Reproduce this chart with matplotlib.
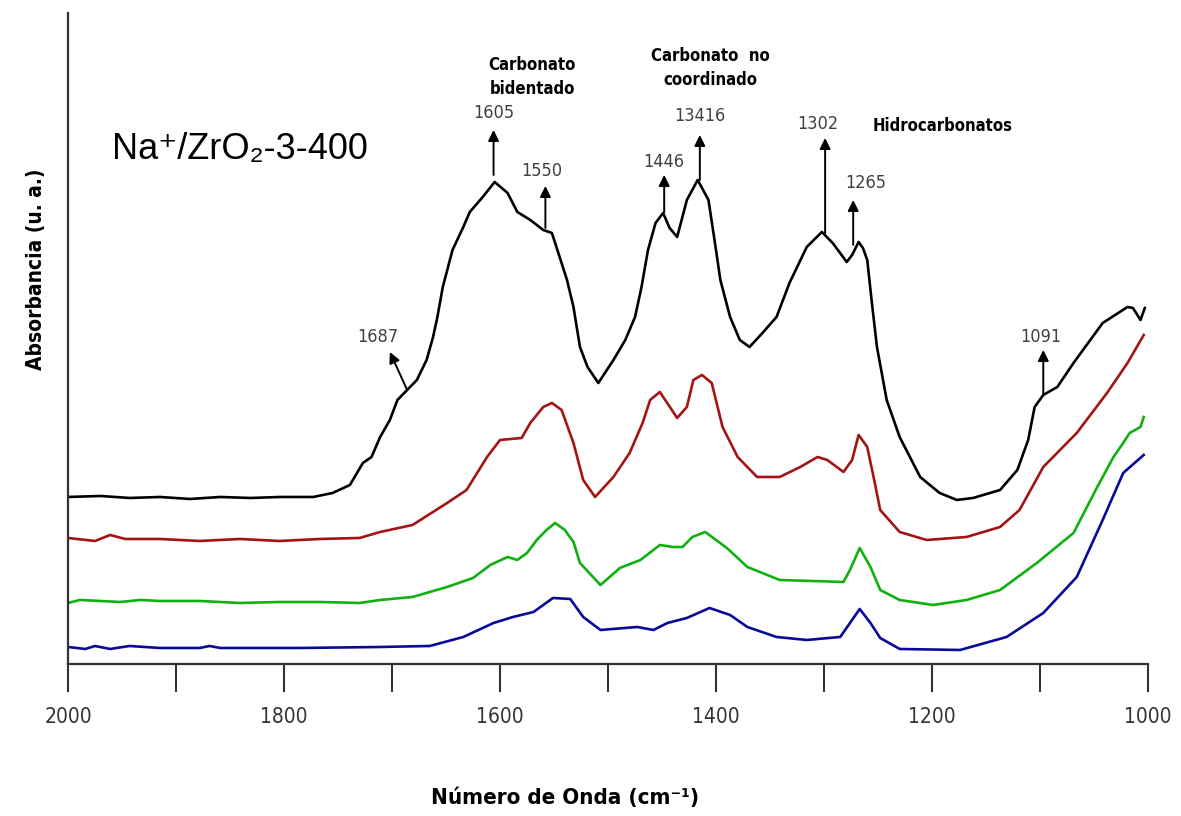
import numpy as np
import matplotlib
matplotlib.use("Agg")
import matplotlib.pyplot as plt
from matplotlib import font_manager

# espectros DRIFT (u. a.)
w_negro = [2000, 1970, 1943, 1915, 1887, 1859, 1831, 1804, 1773, 1755, 1739, 1727, 1719, 1711, 1702, 1695,
           1686, 1677, 1668, 1662, 1658, 1653, 1644, 1634, 1628, 1616, 1605, 1593, 1584, 1572, 1560, 1552,
           1546, 1538, 1532, 1526, 1519, 1509, 1495, 1484, 1475, 1469, 1463, 1456, 1449, 1443, 1436, 1427,
           1417, 1407, 1401, 1396, 1387, 1378, 1369, 1357, 1344, 1332, 1316, 1302, 1292, 1279, 1274, 1268,
           1264, 1260, 1256, 1251, 1242, 1230, 1211, 1193, 1177, 1162, 1137, 1121, 1111, 1105, 1097, 1084,
           1069, 1042, 1019, 1014, 1007, 1003]
a_negro = [167, 168, 166, 167, 165, 167, 166, 167, 167, 171, 179, 201, 207, 227, 244, 264,
           274, 284, 304, 327, 347, 377, 414, 437, 452, 467, 482, 471, 452, 444, 434, 431,
           411, 384, 357, 317, 297, 281, 304, 324, 347, 377, 414, 441, 451, 436, 427, 464,
           484, 464, 421, 384, 347, 324, 317, 331, 347, 381, 417, 432, 421, 402, 409, 422,
           416, 404, 364, 317, 264, 227, 187, 171, 164, 166, 174, 194, 224, 257, 269, 277,
           301, 341, 357, 356, 344, 356]

w_rojo = [2000, 1975, 1961, 1947, 1915, 1878, 1841, 1804, 1767, 1730, 1711, 1681, 1649, 1631, 1612, 1600,
          1580, 1572, 1560, 1552, 1543, 1532, 1523, 1512, 1495, 1480, 1468, 1461, 1452, 1444, 1436, 1427,
          1421, 1413, 1404, 1394, 1380, 1362, 1341, 1322, 1306, 1297, 1282, 1274, 1268, 1260, 1253, 1248,
          1230, 1205, 1168, 1137, 1119, 1097, 1066, 1038, 1019, 1004]
a_rojo = [126, 123, 129, 125, 125, 123, 125, 123, 125, 126, 132, 139, 161, 174, 207, 224,
          226, 241, 257, 261, 254, 221, 184, 167, 187, 211, 241, 264, 272, 259, 246, 257,
          284, 289, 281, 237, 207, 187, 187, 197, 207, 204, 192, 204, 229, 217, 181, 154,
          132, 124, 127, 137, 154, 197, 231, 271, 301, 329]

w_verde = [2000, 1989, 1970, 1952, 1933, 1915, 1878, 1841, 1804, 1767, 1730, 1711, 1681, 1649, 1625, 1609,
           1593, 1584, 1575, 1566, 1557, 1549, 1540, 1532, 1526, 1507, 1489, 1470, 1452, 1440, 1431, 1422,
           1410, 1390, 1371, 1341, 1282, 1276, 1267, 1257, 1248, 1230, 1199, 1168, 1137, 1103, 1069, 1047,
           1032, 1023, 1017, 1007, 1004]
a_verde = [61, 64, 63, 62, 64, 63, 63, 61, 62, 62, 61, 64, 67, 77, 86, 99,
           107, 104, 111, 124, 134, 141, 134, 122, 101, 79, 96, 104, 119, 117, 117, 127,
           132, 116, 97, 84, 82, 94, 116, 97, 74, 64, 59, 64, 74, 101, 131, 177,
           207, 221, 231, 237, 247]

w_azul = [2000, 1984, 1975, 1961, 1943, 1915, 1878, 1869, 1859, 1785, 1711, 1665, 1634, 1606, 1588, 1569,
          1551, 1535, 1523, 1507, 1473, 1458, 1445, 1427, 1406, 1387, 1371, 1344, 1316, 1285, 1276, 1267,
          1257, 1248, 1230, 1174, 1131, 1097, 1066, 1042, 1023, 1004]
a_azul = [17, 15, 18, 15, 18, 16, 16, 18, 16, 16, 17, 18, 27, 41, 47, 52,
          66, 65, 47, 34, 37, 34, 41, 46, 56, 49, 37, 27, 24, 27, 41, 55,
          41, 26, 15, 14, 27, 51, 87, 144, 191, 209]

# bandas marcadas: etiqueta, (x, y) punta de flecha, (x, y) cola, (x, y) texto
bandas = [
    ("1605", (1606, 534), (1606, 489), (1606, 551)),
    ("1550", (1558, 478), (1558, 436), (1561, 493)),
    ("1687", (1702, 312), (1686, 274), (1713, 327)),
    ("1446", (1448, 489), (1448, 452), (1448, 502)),
    ("13416", (1415, 529), (1415, 484), (1415, 548)),
    ("1302", (1299, 526), (1299, 431), (1306, 540)),
    ("1265", (1273, 464), (1273, 419), (1261, 481)),
    ("1091", (1097, 314), (1097, 269), (1099, 327)),
]
grupos = [
    ("Carbonato\nbidentado", 1570, 587),
    ("Carbonato  no\ncoordinado", 1405, 596),
    ("Hidrocarbonatos", 1190, 538),
]

# letra estrecha si hay alguna instalada
nombres = {f.name for f in font_manager.fontManager.ttflist}
estrecha = "Liberation Sans Narrow" if "Liberation Sans Narrow" in nombres else "DejaVu Sans"
fuente = dict(family=[estrecha, "DejaVu Sans"], fontstretch="condensed")

fig = plt.figure(figsize=(11.81, 8.16), dpi=100)
ax = fig.add_axes([0.0576, 0.1863, 0.9145, 0.7978])

ax.plot(w_negro, a_negro, color="black", lw=1.9)
ax.plot(w_rojo, a_rojo, color="#a31515", lw=1.9)
ax.plot(w_verde, a_verde, color="#10b010", lw=1.9)
ax.plot(w_azul, a_azul, color="#0a0a9a", lw=1.9)

ax.set_xlim(2000, 1000)
ax.set_ylim(0, 651)

for s in ["top", "right"]:
    ax.spines[s].set_visible(False)
for s in ["left", "bottom"]:
    ax.spines[s].set_linewidth(1.6)
    ax.spines[s].set_color("#333333")

ax.set_yticks([])
ax.set_xticks(np.arange(2000, 999, -200))
ax.set_xticks(np.arange(1900, 1000, -200), minor=True)
ax.tick_params(axis="x", which="both", direction="out", length=20, width=1.5,
               color="#333333", pad=11)
for lab in ax.get_xticklabels():
    lab.set_fontfamily(fuente["family"])
    lab.set_fontstretch("condensed")
    lab.set_fontsize(15)
    lab.set_color("#333333")

for txt, punta, cola, pos in bandas:
    ax.annotate("", xy=punta, xytext=cola,
                arrowprops=dict(arrowstyle="-|>", color="black", lw=1.4, mutation_scale=16,
                                shrinkA=0, shrinkB=0))
    ax.text(pos[0], pos[1], txt, ha="center", va="center", fontsize=13,
            color="#404040", **fuente)

for txt, x, y in grupos:
    ax.text(x, y, txt, ha="center", va="center", fontsize=12, fontweight="bold",
            linespacing=1.4, **fuente)

ax.text(1959, 514, "Na\u207a/ZrO\u2082-3-400", ha="left", va="center", fontsize=26,
        family=["Liberation Sans", "DejaVu Sans"])

fig.text(565 / 1181, 1 - 798 / 816, "Número de Onda (cm\u207b\u00b9)", ha="center", va="center",
         fontsize=16, fontweight="bold", **fuente)
fig.text(36 / 1181, 1 - 269 / 816, "Absorbancia (u. a.)", ha="center", va="center",
         rotation=90, fontsize=15, fontweight="bold", **fuente)

fig.savefig("out.png", dpi=100, facecolor="white")
